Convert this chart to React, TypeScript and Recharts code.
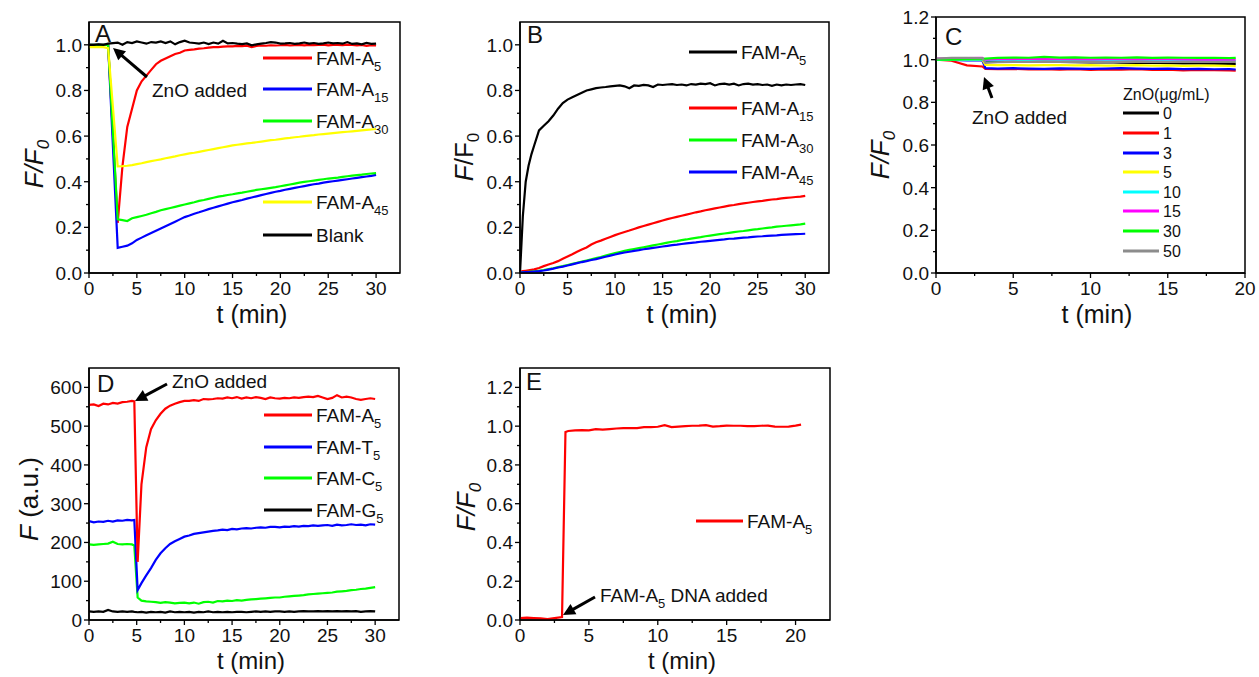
import React from "react"
import { LineChart, Line, XAxis, YAxis, ReferenceArea } from "recharts"

const W = 1259
const H = 677
const FONT = "'Liberation Sans', Arial, Helvetica, sans-serif"
const X_AXIS_H = 40
const Y_AXIS_W = 60

// ---------- Panel A: ZnO added at ~2 min ----------
const tA = [0, 0.5, 1, 1.5, 2, 3, 3.5, 4, 4.5, 5, 5.5, 6, 6.5, 7, 7.5, 8, 8.5, 9, 9.5, 10, 10.5, 11, 11.5, 12, 12.5, 13, 13.5, 14, 14.5, 15, 15.5, 16, 16.5, 17, 17.5, 18, 18.5, 19, 19.5, 20, 20.5, 21, 21.5, 22, 22.5, 23, 23.5, 24, 24.5, 25, 25.5, 26, 26.5, 27, 27.5, 28, 28.5, 29, 29.5, 30]
const aA5 = [1.0, 1.0, 1.0, 1.0, 1.0, 0.22, 0.47, 0.64, 0.72, 0.8, 0.84, 0.865, 0.89, 0.915, 0.93, 0.94, 0.95, 0.96, 0.965, 0.975, 0.978, 0.98, 0.983, 0.985, 0.988, 0.99, 0.99, 0.992, 0.993, 0.993, 0.995, 0.994, 0.996, 0.99, 0.995, 0.997, 0.996, 0.998, 0.997, 0.998, 1.0, 0.997, 0.999, 1.0, 0.998, 1.0, 0.999, 1.0, 1.001, 0.998, 1.0, 1.0, 0.999, 1.001, 1.0, 0.998, 1.0, 0.995, 0.998, 0.997]
const aA15 = [1.0, 1.0, 1.0, 1.0, 1.0, 0.11, 0.115, 0.12, 0.13, 0.145, 0.155, 0.165, 0.175, 0.185, 0.195, 0.205, 0.215, 0.225, 0.235, 0.245, 0.252, 0.26, 0.266, 0.273, 0.28, 0.286, 0.292, 0.298, 0.304, 0.31, 0.315, 0.32, 0.326, 0.331, 0.336, 0.341, 0.346, 0.351, 0.356, 0.36, 0.365, 0.369, 0.373, 0.377, 0.381, 0.385, 0.389, 0.392, 0.396, 0.399, 0.402, 0.405, 0.408, 0.411, 0.414, 0.417, 0.42, 0.423, 0.426, 0.43]
const aA30 = [1.0, 1.0, 1.0, 1.0, 1.0, 0.235, 0.232, 0.228, 0.24, 0.245, 0.25, 0.255, 0.262, 0.268, 0.275, 0.28, 0.285, 0.29, 0.295, 0.3, 0.305, 0.31, 0.316, 0.32, 0.325, 0.33, 0.335, 0.338, 0.342, 0.345, 0.349, 0.352, 0.356, 0.36, 0.364, 0.367, 0.37, 0.373, 0.376, 0.38, 0.384, 0.388, 0.392, 0.396, 0.399, 0.402, 0.405, 0.408, 0.411, 0.414, 0.416, 0.418, 0.421, 0.424, 0.427, 0.429, 0.431, 0.434, 0.436, 0.438]
const aA45 = [0.99, 0.99, 0.99, 0.99, 0.985, 0.467, 0.468, 0.47, 0.473, 0.477, 0.481, 0.486, 0.49, 0.494, 0.498, 0.503, 0.507, 0.511, 0.516, 0.52, 0.524, 0.527, 0.531, 0.535, 0.539, 0.543, 0.547, 0.551, 0.555, 0.559, 0.562, 0.565, 0.568, 0.57, 0.573, 0.576, 0.579, 0.582, 0.584, 0.587, 0.59, 0.592, 0.595, 0.597, 0.6, 0.602, 0.604, 0.607, 0.609, 0.611, 0.613, 0.615, 0.617, 0.619, 0.621, 0.623, 0.625, 0.627, 0.629, 0.631]
const aBlank = [1.0, 1.0, 1.002, 1.0, 1.005, 1.01, 1.0, 1.012, 1.008, 1.015, 1.01, 1.005, 1.012, 1.01, 1.015, 1.008, 1.015, 1.002, 1.012, 1.018, 1.01, 1.008, 1.005, 1.01, 1.003, 1.01, 1.005, 1.018, 1.006, 1.008, 1.005, 1.003, 1.006, 0.998, 1.002, 1.005, 1.008, 1.012, 1.01, 1.005, 1.006, 1.008, 1.004, 1.006, 1.01, 1.005, 1.008, 1.004, 1.006, 1.01, 1.006, 1.008, 1.005, 1.012, 1.004, 1.006, 1.002, 1.008, 1.004, 1.005]

// ---------- Panel B ----------
const tB = [0, 0.3, 0.6, 0.9, 1.2, 1.5, 2, 2.5, 3, 3.5, 4, 4.5, 5, 5.5, 6, 6.5, 7, 7.5, 8, 8.5, 9, 9.5, 10, 10.5, 11, 11.5, 12, 12.5, 13, 13.5, 14, 14.5, 15, 15.5, 16, 16.5, 17, 17.5, 18, 18.5, 19, 19.5, 20, 20.5, 21, 21.5, 22, 22.5, 23, 23.5, 24, 24.5, 25, 25.5, 26, 26.5, 27, 27.5, 28, 28.5, 29, 29.5, 30]
const bA5 = [0, 0.25, 0.4, 0.47, 0.52, 0.56, 0.625, 0.645, 0.665, 0.69, 0.72, 0.745, 0.76, 0.77, 0.78, 0.79, 0.8, 0.805, 0.81, 0.813, 0.815, 0.818, 0.82, 0.822, 0.818, 0.81, 0.822, 0.82, 0.824, 0.822, 0.815, 0.826, 0.824, 0.826, 0.828, 0.824, 0.826, 0.822, 0.828, 0.826, 0.83, 0.828, 0.832, 0.822, 0.828, 0.83, 0.826, 0.83, 0.822, 0.828, 0.83, 0.826, 0.828, 0.824, 0.826, 0.82, 0.826, 0.822, 0.826, 0.824, 0.826, 0.828, 0.824]
const bA15 = [0.005, 0.008, 0.01, 0.012, 0.014, 0.016, 0.022, 0.03, 0.037, 0.044, 0.052, 0.062, 0.072, 0.082, 0.093, 0.103, 0.112, 0.125, 0.135, 0.142, 0.15, 0.158, 0.166, 0.173, 0.18, 0.186, 0.193, 0.2, 0.206, 0.212, 0.218, 0.224, 0.23, 0.236, 0.241, 0.246, 0.251, 0.256, 0.261, 0.266, 0.27, 0.275, 0.279, 0.283, 0.287, 0.291, 0.295, 0.298, 0.302, 0.305, 0.308, 0.311, 0.314, 0.316, 0.319, 0.322, 0.324, 0.327, 0.329, 0.331, 0.333, 0.335, 0.338]
const bA30 = [0.003, 0.003, 0.004, 0.005, 0.006, 0.007, 0.01, 0.013, 0.017, 0.021, 0.026, 0.03, 0.035, 0.04, 0.045, 0.05, 0.055, 0.06, 0.065, 0.07, 0.076, 0.082, 0.087, 0.092, 0.097, 0.101, 0.105, 0.109, 0.113, 0.117, 0.121, 0.125, 0.129, 0.133, 0.137, 0.14, 0.144, 0.147, 0.151, 0.154, 0.157, 0.161, 0.164, 0.167, 0.17, 0.173, 0.176, 0.179, 0.182, 0.184, 0.187, 0.19, 0.192, 0.195, 0.198, 0.2, 0.203, 0.205, 0.207, 0.209, 0.211, 0.213, 0.216]
const bA45 = [0.003, 0.003, 0.004, 0.004, 0.005, 0.006, 0.008, 0.011, 0.015, 0.019, 0.024, 0.028, 0.033, 0.038, 0.043, 0.048, 0.052, 0.057, 0.061, 0.066, 0.071, 0.076, 0.081, 0.086, 0.09, 0.093, 0.097, 0.1, 0.104, 0.107, 0.11, 0.113, 0.116, 0.119, 0.122, 0.124, 0.127, 0.13, 0.132, 0.134, 0.137, 0.139, 0.141, 0.143, 0.145, 0.147, 0.15, 0.151, 0.153, 0.155, 0.156, 0.158, 0.16, 0.161, 0.163, 0.164, 0.165, 0.167, 0.168, 0.169, 0.17, 0.171, 0.172]

// ---------- Panel C: ZnO concentration (ug/mL) ----------
const tC = [0, 1, 2, 3, 3.2, 4, 5, 6, 7, 8, 9, 10, 11, 12, 13, 14, 15, 16, 17, 18, 19, 19.4]
const c0 = [1.0, 1.0, 1.0, 1.0, 0.99, 0.99, 0.992, 0.99, 0.989, 0.99, 0.988, 0.987, 0.988, 0.986, 0.985, 0.986, 0.984, 0.982, 0.983, 0.981, 0.98, 0.98]
const c1 = [1.0, 0.995, 0.973, 0.968, 0.957, 0.955, 0.957, 0.954, 0.956, 0.953, 0.955, 0.952, 0.954, 0.953, 0.955, 0.952, 0.953, 0.95, 0.952, 0.951, 0.95, 0.949]
const c3 = [1.0, 0.999, 0.997, 0.996, 0.96, 0.958, 0.96, 0.958, 0.957, 0.959, 0.958, 0.957, 0.958, 0.96, 0.958, 0.957, 0.958, 0.956, 0.957, 0.955, 0.956, 0.954]
const c5 = [1.0, 1.0, 1.0, 1.0, 0.975, 0.974, 0.975, 0.973, 0.974, 0.975, 0.973, 0.974, 0.972, 0.973, 0.974, 0.972, 0.973, 0.971, 0.972, 0.972, 0.971, 0.97]
const c10 = [1.0, 1.0, 1.0, 1.0, 0.996, 0.997, 0.998, 0.996, 0.997, 0.998, 0.996, 0.997, 0.996, 0.997, 0.995, 0.996, 0.997, 0.995, 0.996, 0.995, 0.996, 0.995]
const c15 = [1.005, 1.006, 1.007, 1.008, 1.0, 1.002, 1.003, 1.004, 1.003, 1.002, 1.003, 1.001, 1.003, 1.002, 1.001, 1.003, 1.002, 1.001, 1.0, 1.001, 1.0, 1.0]
const c30 = [1.0, 1.0, 1.002, 1.003, 1.005, 1.008, 1.01, 1.009, 1.013, 1.01, 1.011, 1.009, 1.01, 1.009, 1.011, 1.008, 1.01, 1.009, 1.008, 1.009, 1.007, 1.008]
const c50 = [1.005, 1.008, 1.008, 1.007, 0.985, 0.988, 0.99, 0.99, 0.991, 0.99, 0.991, 0.99, 0.989, 0.99, 0.991, 0.99, 0.989, 0.99, 0.99, 0.989, 0.99, 0.99]
const cLabels = ["0", "1", "3", "5", "10", "15", "30", "50"]

// ---------- Panel D: raw fluorescence ----------
const tD = [0, 0.5, 1, 1.5, 2, 2.5, 3, 3.5, 4, 4.5, 4.75, 5.1, 5.5, 6, 6.5, 7, 7.5, 8, 8.5, 9, 9.5, 10, 10.5, 11, 11.5, 12, 12.5, 13, 13.5, 14, 14.5, 15, 15.5, 16, 16.5, 17, 17.5, 18, 18.5, 19, 19.5, 20, 20.5, 21, 21.5, 22, 22.5, 23, 23.5, 24, 24.5, 25, 25.5, 26, 26.5, 27, 27.5, 28, 28.5, 29, 29.5, 30]
const dA5 = [555, 556, 552, 558, 556, 560, 558, 562, 563, 565, 564, 150, 350, 445, 492, 515, 532, 545, 553, 558, 562, 565, 565, 567, 565, 570, 569, 570, 572, 571, 574, 572, 575, 571, 574, 572, 575, 573, 570, 574, 572, 571, 573, 572, 574, 573, 575, 576, 575, 578, 574, 570, 573, 580, 574, 576, 574, 570, 568, 570, 572, 570]
const dT5 = [255, 252, 254, 253, 256, 254, 257, 256, 258, 257, 258, 77, 95, 115, 134, 155, 172, 185, 196, 203, 209, 215, 218, 222, 224, 226, 228, 230, 231, 233, 232, 235, 234, 236, 237, 236, 238, 239, 238, 240, 240, 239, 241, 240, 242, 241, 243, 242, 244, 243, 244, 245, 243, 246, 244, 245, 247, 245, 246, 244, 247, 246]
const dC5 = [195, 194, 195, 196, 197, 202, 196, 195, 196, 195, 192, 58, 50, 48, 47, 46, 44, 46, 45, 43, 44, 45, 43, 45, 42, 46, 47, 45, 49, 48, 50, 49, 51, 50, 52, 53, 54, 55, 56, 57, 58, 58, 60, 61, 62, 63, 64, 66, 67, 68, 69, 70, 71, 73, 74, 75, 77, 78, 80, 81, 83, 85]
const dG5 = [22, 21, 22, 21, 26, 22, 21, 22, 21, 22, 21, 20, 21, 19, 21, 20, 21, 19, 22, 20, 21, 20, 21, 19, 21, 20, 22, 20, 21, 20, 21, 20, 21, 21, 20, 21, 22, 21, 22, 21, 22, 22, 21, 22, 21, 22, 23, 22, 22, 23, 22, 23, 22, 23, 22, 23, 22, 23, 21, 22, 23, 22]

// ---------- Panel E: DNA added at ~3 min ----------
const tE = [0, 0.5, 1, 1.5, 2, 2.5, 3.05, 3.3, 3.5, 4, 4.5, 5, 5.5, 6, 6.5, 7, 7.5, 8, 8.5, 9, 9.5, 10, 10.5, 11, 11.5, 12, 12.5, 13, 13.5, 14, 14.5, 15, 15.5, 16, 16.5, 17, 17.5, 18, 18.5, 19, 19.5, 20, 20.4]
const eA5 = [0.01, 0.012, 0.01, 0.008, 0.005, 0.01, 0.015, 0.97, 0.975, 0.978, 0.98, 0.978, 0.985, 0.982, 0.985, 0.988, 0.99, 0.99, 0.99, 0.995, 0.995, 0.997, 1.005, 0.995, 0.998, 1.0, 1.002, 1.003, 1.005, 0.998, 1.0, 1.003, 1.002, 1.002, 1.0, 1.0, 1.002, 1.003, 0.998, 0.997, 0.998, 1.003, 1.008]

// ---------- ticks ----------
const x30Ticks = [0, 5, 10, 15, 20, 25, 30]
const x30Minor = [2.5, 7.5, 12.5, 17.5, 22.5, 27.5]
const x20Ticks = [0, 5, 10, 15, 20]
const x20Minor = [2.5, 7.5, 12.5, 17.5]
const y10Ticks = [0, 0.2, 0.4, 0.6, 0.8, 1.0]
const y10Minor = [0.1, 0.3, 0.5, 0.7, 0.9]
const y12Ticks = [0, 0.2, 0.4, 0.6, 0.8, 1.0, 1.2]
const y12Minor = [0.1, 0.3, 0.5, 0.7, 0.9, 1.1]
const yDTicks = [0, 100, 200, 300, 400, 500, 600]
const yDMinor = [50, 150, 250, 350, 450, 550]

const RED = "#ff0000"
const BLUE = "#0000ff"
const GREEN = "#00ff00"
const YELLOW = "#ffff00"
const BLACK = "#000000"
const CYAN = "#00ffff"
const MAGENTA = "#ff00ff"
const GRAY = "#8c8c8c"

type Series = { key: string; color: string; values: number[] }

function makeTick(axis: "x" | "y", majors: number[], digits: number) {
  return (props: any) => {
    const { x, y, payload } = props
    const v = payload.value as number
    const major = majors.some((m) => Math.abs(m - v) < 1e-9)
    if (axis === "x") {
      return (
        <g>
          <line x1={x} y1={y} x2={x} y2={y + (major ? 5 : 3)} stroke="#000" strokeWidth={1.3} />
          {major && (
            <text x={x} y={y + 22} textAnchor="middle" fontSize={19} fontFamily={FONT} fill="#111">
              {v.toFixed(digits)}
            </text>
          )}
        </g>
      )
    }
    return (
      <g>
        <line x1={x} y1={y} x2={x - (major ? 5 : 3)} y2={y} stroke="#000" strokeWidth={1.3} />
        {major && (
          <text x={x - 7} y={y} dy="0.36em" textAnchor="end" fontSize={19} fontFamily={FONT} fill="#111">
            {v.toFixed(digits)}
          </text>
        )}
      </g>
    )
  }
}

type PanelProps = {
  t: number[]
  series: Series[]
  box: { l: number; r: number; t: number; b: number }
  xMax: number
  yMax: number
  xTicks: number[]
  xMinor: number[]
  yTicks: number[]
  yMinor: number[]
  yDigits: number
}

function Panel({ t, series, box, xMax, yMax, xTicks, xMinor, yTicks, yMinor, yDigits }: PanelProps) {
  const rows = t.map((tt, i) => {
    const r: Record<string, number> = { t: tt }
    series.forEach((s) => (r[s.key] = s.values[i]))
    return r
  })
  return (
    <div style={{ position: "absolute", left: 0, top: 0 }}>
      <LineChart
        width={W}
        height={H}
        data={rows}
        margin={{
          left: box.l - Y_AXIS_W,
          top: box.t,
          right: W - box.r,
          bottom: H - box.b - X_AXIS_H,
        }}
      >
        <XAxis
          type="number"
          dataKey="t"
          domain={[0, xMax]}
          ticks={[...xTicks, ...xMinor]}
          interval={0}
          height={X_AXIS_H}
          tickSize={0}
          tickMargin={0}
          tickLine={false}
          axisLine={{ stroke: "#000", strokeWidth: 1.5 }}
          tick={makeTick("x", xTicks, 0)}
          allowDataOverflow
        />
        <YAxis
          type="number"
          domain={[0, yMax]}
          ticks={[...yTicks, ...yMinor]}
          interval={0}
          width={Y_AXIS_W}
          tickSize={0}
          tickMargin={0}
          tickLine={false}
          axisLine={{ stroke: "#000", strokeWidth: 1.5 }}
          tick={makeTick("y", yTicks, yDigits)}
          allowDataOverflow
        />
        <ReferenceArea x1={0} x2={xMax} y1={0} y2={yMax} fill="none" stroke="#000" strokeWidth={1.5} />
        {series.map((s) => (
          <Line
            key={s.key}
            type="linear"
            dataKey={s.key}
            stroke={s.color}
            strokeWidth={2.2}
            dot={false}
            isAnimationActive={false}
          />
        ))}
      </LineChart>
    </div>
  )
}

function Arrow({ x1, y1, x2, y2 }: { x1: number; y1: number; x2: number; y2: number }) {
  const dx = x2 - x1
  const dy = y2 - y1
  const len = Math.hypot(dx, dy)
  const ux = dx / len
  const uy = dy / len
  const hl = 12
  const hw = 6
  const bx = x2 - ux * hl
  const by = y2 - uy * hl
  const pts = `${x2},${y2} ${bx - uy * hw},${by + ux * hw} ${bx + uy * hw},${by - ux * hw}`
  return (
    <g>
      <line x1={x1} y1={y1} x2={bx + ux} y2={by + uy} stroke="#000" strokeWidth={3} />
      <polygon points={pts} fill="#000" />
    </g>
  )
}

function Sub({ children, size = 13 }: { children: React.ReactNode; size?: number }) {
  return (
    <tspan dy={6} fontSize={size}>
      {children}
    </tspan>
  )
}

function LegendItem({ x1, x2, y, color, children, size = 19 }: any) {
  return (
    <g>
      <line x1={x1} y1={y} x2={x2} y2={y} stroke={color} strokeWidth={3} />
      <text x={x2 + 4} y={y} dy="0.36em" fontSize={size} fontFamily={FONT} fill="#111">
        {children}
      </text>
    </g>
  )
}

function Overlay() {
  const title = { fontSize: 25, fontFamily: FONT, fill: "#111", textAnchor: "middle" as const }
  const titleLow = { ...title, fontSize: 24 }
  const ylab = { fontSize: 26, fontFamily: FONT, fill: "#111", textAnchor: "middle" as const }
  const letter = { fontSize: 24, fontFamily: FONT, fill: "#111" }
  const note = { fontSize: 19, fontFamily: FONT, fill: "#111" }
  const cColors = [BLACK, RED, BLUE, YELLOW, CYAN, MAGENTA, GREEN, GRAY]
  const cY = [113, 133, 153, 172, 192, 211, 231, 251]
  return (
    <svg width={W} height={H} style={{ position: "absolute", left: 0, top: 0, pointerEvents: "none" }}>
      {/* panel letters */}
      <text x={95} y={42} {...letter}>A</text>
      <text x={527} y={43} {...letter}>B</text>
      <text x={945} y={45} {...letter}>C</text>
      <text x={97} y={392} {...letter}>D</text>
      <text x={526} y={390} {...letter}>E</text>

      {/* x titles */}
      <text x={252} y={323} {...title}>t (min)</text>
      <text x={682} y={323} {...title}>t (min)</text>
      <text x={1097} y={323} {...title}>t (min)</text>
      <text x={251} y={669} {...titleLow}>t (min)</text>
      <text x={682} y={669} {...titleLow}>t (min)</text>

      {/* y titles */}
      <text transform="translate(43,164) rotate(-90)" {...ylab} fontStyle="italic">
        F/F<Sub size={17}>0</Sub>
      </text>
      <text transform="translate(473,157) rotate(-90)" {...ylab}>
        <tspan fontStyle="italic">F</tspan>/F<Sub size={17}>0</Sub>
      </text>
      <text transform="translate(889,155) rotate(-90)" {...ylab} fontStyle="italic">
        F/F<Sub size={17}>0</Sub>
      </text>
      <text transform="translate(38,499) rotate(-90)" {...ylab}>
        <tspan fontStyle="italic">F</tspan> (a.u.)
      </text>
      <text transform="translate(475,507) rotate(-90)" {...ylab} fontStyle="italic">
        F/F<Sub size={17}>0</Sub>
      </text>

      {/* legend A */}
      <LegendItem x1={263} x2={312} y={58} color={RED}>FAM-A<Sub>5</Sub></LegendItem>
      <LegendItem x1={263} x2={312} y={89} color={BLUE}>FAM-A<Sub>15</Sub></LegendItem>
      <LegendItem x1={263} x2={312} y={121} color={GREEN}>FAM-A<Sub>30</Sub></LegendItem>
      <LegendItem x1={263} x2={312} y={202} color={YELLOW}>FAM-A<Sub>45</Sub></LegendItem>
      <LegendItem x1={263} x2={312} y={235} color={BLACK}>Blank</LegendItem>

      {/* legend B */}
      <LegendItem x1={689} x2={737} y={52} color={BLACK}>FAM-A<Sub>5</Sub></LegendItem>
      <LegendItem x1={689} x2={737} y={108} color={RED}>FAM-A<Sub>15</Sub></LegendItem>
      <LegendItem x1={689} x2={737} y={140} color={GREEN}>FAM-A<Sub>30</Sub></LegendItem>
      <LegendItem x1={689} x2={737} y={172} color={BLUE}>FAM-A<Sub>45</Sub></LegendItem>

      {/* legend C */}
      <text x={1123} y={100} fontSize={16} fontFamily={FONT} fill="#111">ZnO(μg/mL)</text>
      {cLabels.map((lab, i) => (
        <LegendItem key={lab} x1={1123} x2={1159} y={cY[i]} color={cColors[i]} size={16}>
          {lab}
        </LegendItem>
      ))}

      {/* legend D */}
      <LegendItem x1={264} x2={312} y={415} color={RED}>FAM-A<Sub>5</Sub></LegendItem>
      <LegendItem x1={264} x2={312} y={447} color={BLUE}>FAM-T<Sub>5</Sub></LegendItem>
      <LegendItem x1={264} x2={312} y={478} color={GREEN}>FAM-C<Sub>5</Sub></LegendItem>
      <LegendItem x1={264} x2={312} y={510} color={BLACK}>FAM-G<Sub>5</Sub></LegendItem>

      {/* legend E */}
      <LegendItem x1={696} x2={743} y={521} color={RED}>FAM-A<Sub>5</Sub></LegendItem>

      {/* annotations */}
      <text x={152} y={97} {...note}>ZnO added</text>
      <Arrow x1={147} y1={77} x2={113} y2={48} />
      <text x={972} y={124} {...note}>ZnO added</text>
      <Arrow x1={992} y1={98} x2={984} y2={77} />
      <text x={172} y={388} {...note}>ZnO added</text>
      <Arrow x1={167} y1={384} x2={135} y2={401} />
      <text x={600} y={602} {...note}>
        FAM-A<Sub>5</Sub>
        <tspan dy={-6}> DNA added</tspan>
      </text>
      <Arrow x1={595} y1={597} x2={563} y2={615} />
    </svg>
  )
}

export default function App() {
  const seriesA: Series[] = [
    { key: "A5", color: RED, values: aA5 },
    { key: "A15", color: BLUE, values: aA15 },
    { key: "A30", color: GREEN, values: aA30 },
    { key: "A45", color: YELLOW, values: aA45 },
    { key: "blank", color: BLACK, values: aBlank },
  ]
  const seriesB: Series[] = [
    { key: "A5", color: BLACK, values: bA5 },
    { key: "A15", color: RED, values: bA15 },
    { key: "A30", color: GREEN, values: bA30 },
    { key: "A45", color: BLUE, values: bA45 },
  ]
  const seriesC: Series[] = [
    { key: "c0", color: BLACK, values: c0 },
    { key: "c1", color: RED, values: c1 },
    { key: "c3", color: BLUE, values: c3 },
    { key: "c5", color: YELLOW, values: c5 },
    { key: "c10", color: CYAN, values: c10 },
    { key: "c15", color: MAGENTA, values: c15 },
    { key: "c30", color: GREEN, values: c30 },
    { key: "c50", color: GRAY, values: c50 },
  ]
  const seriesD: Series[] = [
    { key: "G5", color: BLACK, values: dG5 },
    { key: "C5", color: GREEN, values: dC5 },
    { key: "T5", color: BLUE, values: dT5 },
    { key: "A5", color: RED, values: dA5 },
  ]
  const seriesE: Series[] = [{ key: "A5", color: RED, values: eA5 }]

  return (
    <div style={{ position: "absolute", left: 0, top: 0, width: W, height: H, background: "#fff" }}>
      <Panel t={tA} series={seriesA} box={{ l: 89, r: 400, t: 22, b: 273 }} xMax={32.5} yMax={1.1}
        xTicks={x30Ticks} xMinor={x30Minor} yTicks={y10Ticks} yMinor={y10Minor} yDigits={1} />
      <Panel t={tB} series={seriesB} box={{ l: 520, r: 829, t: 22, b: 273 }} xMax={32.5} yMax={1.1}
        xTicks={x30Ticks} xMinor={x30Minor} yTicks={y10Ticks} yMinor={y10Minor} yDigits={1} />
      <Panel t={tC} series={seriesC} box={{ l: 936, r: 1245, t: 17, b: 273 }} xMax={20} yMax={1.2}
        xTicks={x20Ticks} xMinor={x20Minor} yTicks={y12Ticks} yMinor={y12Minor} yDigits={1} />
      <Panel t={tD} series={seriesD} box={{ l: 89, r: 399, t: 368, b: 620 }} xMax={32.5} yMax={650}
        xTicks={x30Ticks} xMinor={x30Minor} yTicks={yDTicks} yMinor={yDMinor} yDigits={0} />
      <Panel t={tE} series={seriesE} box={{ l: 520, r: 830, t: 368, b: 620 }} xMax={22.5} yMax={1.3}
        xTicks={x20Ticks} xMinor={x20Minor} yTicks={y12Ticks} yMinor={y12Minor} yDigits={1} />
      <Overlay />
    </div>
  )
}
